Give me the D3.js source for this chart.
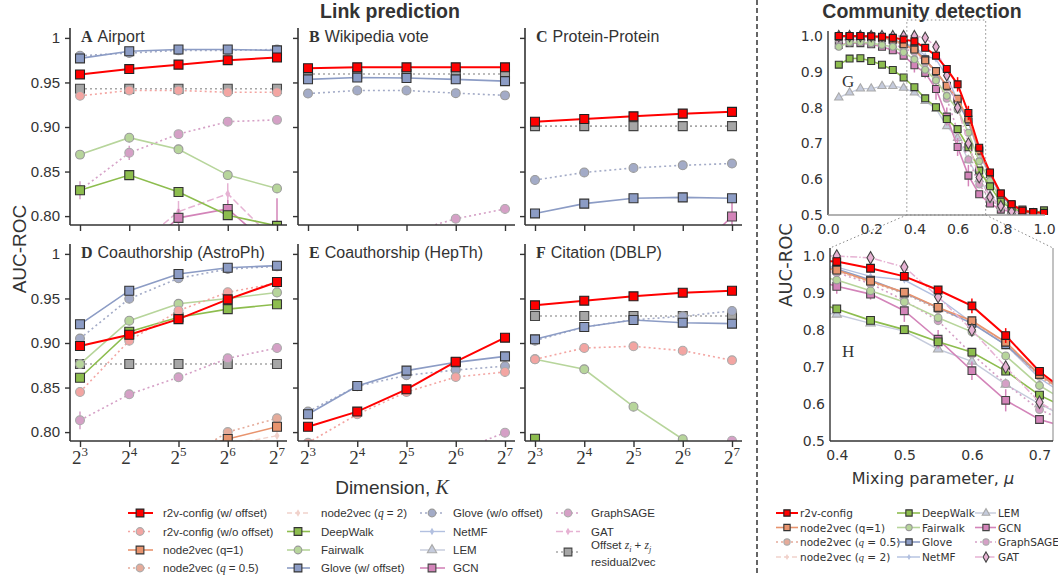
<!DOCTYPE html>
<html><head><meta charset="utf-8">
<script src="https://cdn.jsdelivr.net/npm/d3@7"></script>
<style>
body{margin:0;background:#fff}
svg{display:block}
text{font-family:"Liberation Sans",Arial,sans-serif;fill:#333}
</style></head><body>
<svg width="1058" height="575"></svg>
<script>
// ---- data: link prediction (x = log2 dimension) ----
const dimExp = [3, 4, 5, 6, 7]
const yTicks = [0.80, 0.85, 0.90, 0.95, 1.0]
const yTickLabels = ['0.80', '0.85', '0.90', '0.95', '1']

const A_r2v = [0.959, 0.965, 0.970, 0.975, 0.978]
const A_r2vNo = [0.935, 0.941, 0.941, 0.939, 0.939]
const A_offset = [0.943, 0.943, 0.943, 0.943, 0.943]
const A_gloveW = [0.977, 0.985, 0.987, 0.987, 0.986]
const A_gloveNo = [0.980, 0.983, 0.986, 0.986, 0.987]
const A_graphsage = [0.829, 0.871, 0.892, 0.906, 0.908]
const A_graphsageErr = [0.01, 0.008, 0, 0, 0]
const A_fairwalk = [0.869, 0.888, 0.875, 0.846, 0.831]
const A_deepwalk = [0.829, 0.846, 0.827, 0.801, 0.789]
const A_gcn = [0.72, 0.75, 0.798, 0.808, 0.76]
const A_gcnErr = [0, 0, 0.01, 0.01, 0.06]
const A_gat = [0.73, 0.76, 0.805, 0.825, 0.77]
const A_gatErr = [0, 0, 0.012, 0.012, 0]

const B_r2v = [0.966, 0.967, 0.967, 0.967, 0.967]
const B_offset = [0.9595, 0.9595, 0.9595, 0.9595, 0.9595]
const B_gloveW = [0.9535, 0.9555, 0.955, 0.9535, 0.9515]
const B_gloveNo = [0.9375, 0.941, 0.941, 0.938, 0.9355]
const B_graphsage = [0.74, 0.76, 0.781, 0.797, 0.808]

const C_r2v = [0.906, 0.909, 0.912, 0.915, 0.917]
const C_offset = [0.901, 0.901, 0.901, 0.901, 0.901]
const C_gloveNo = [0.8405, 0.849, 0.854, 0.857, 0.859]
const C_gloveW = [0.803, 0.814, 0.820, 0.821, 0.820]
const C_gcn = [0.70, 0.72, 0.73, 0.747, 0.7995]
const C_gcnErr = [0, 0, 0, 0, 0.02]

const D_gloveW = [0.921, 0.9587, 0.9774, 0.9845, 0.9868]
const D_gloveNo = [0.905, 0.9497, 0.9726, 0.983, 0.986]
const D_r2v = [0.8966, 0.9093, 0.9268, 0.949, 0.9685]
const D_r2vNo = [0.845, 0.9026, 0.9362, 0.957, 0.967]
const D_fairwalk = [0.8764, 0.925, 0.944, 0.950, 0.9567]
const D_deepwalk = [0.861, 0.9127, 0.929, 0.938, 0.9435]
const D_offset = [0.8764, 0.8764, 0.8764, 0.8764, 0.8764]
const D_graphsage = [0.8132, 0.8424, 0.8615, 0.8828, 0.8944]
const D_graphsageErr = [0.01, 0, 0, 0, 0]
const D_n2v1 = [0.74, 0.76, 0.775, 0.7922, 0.806]
const D_n2v05 = [0.72, 0.74, 0.766, 0.800, 0.8155]
const D_n2v2 = [0.73, 0.75, 0.77, 0.785, 0.796]

const E_r2v = [0.806, 0.823, 0.848, 0.879, 0.906]
const E_gloveW = [0.820, 0.8517, 0.869, 0.8783, 0.885]
const E_gloveNo = [0.823, 0.8515, 0.8637, 0.8697, 0.874]
const E_r2vNo = [0.788, 0.820, 0.845, 0.8618, 0.8675]
const E_graphsage = [0.70, 0.72, 0.75, 0.778, 0.7993]

const F_r2v = [0.9423, 0.9475, 0.9524, 0.9565, 0.9587]
const F_offset = [0.9303, 0.9303, 0.9303, 0.9303, 0.9303]
const F_gloveW = [0.9041, 0.918, 0.9258, 0.9228, 0.9217]
const F_gloveNo = [0.9026, 0.918, 0.926, 0.930, 0.936]
const F_r2vNo = [0.8817, 0.8944, 0.8963, 0.8914, 0.8806]
const F_fairwalk = [0.8817, 0.8705, 0.8285, 0.792, 0.77]
const F_deepwalk = [0.7926, 0.76, 0.74, 0.72, 0.70]
const F_graphsage = [0.70, 0.72, 0.75, 0.77, 0.7903]

// ---- data: community detection (x = mixing parameter) ----
const mu = [0.05, 0.1, 0.15, 0.2, 0.25, 0.3, 0.35, 0.4, 0.45, 0.5, 0.55, 0.6, 0.65, 0.7, 0.75, 0.8, 0.85, 0.9, 0.95, 1.0]
const G_r2v = [1.0, 1.0, 1.0, 0.999, 0.998, 0.995, 0.99, 0.985, 0.967, 0.945, 0.908, 0.865, 0.785, 0.688, 0.619, 0.56, 0.53, 0.512, 0.508, 0.506]
const G_n2v1 = [0.998, 0.998, 0.998, 0.997, 0.995, 0.99, 0.977, 0.962, 0.932, 0.902, 0.861, 0.825, 0.767, 0.68, 0.615, 0.56, 0.53, 0.515, 0.508, 0.505]
const G_n2v05 = [0.998, 0.998, 0.997, 0.996, 0.994, 0.988, 0.975, 0.96, 0.93, 0.898, 0.856, 0.82, 0.76, 0.675, 0.61, 0.555, 0.528, 0.513, 0.507, 0.505]
const G_n2v2 = [0.997, 0.997, 0.997, 0.995, 0.993, 0.987, 0.974, 0.958, 0.93, 0.90, 0.86, 0.822, 0.763, 0.678, 0.612, 0.557, 0.528, 0.513, 0.507, 0.505]
const G_deepwalk = [0.92, 0.937, 0.938, 0.93, 0.92, 0.905, 0.884, 0.857, 0.826, 0.801, 0.768, 0.74, 0.689, 0.624, 0.58, 0.537, 0.518, 0.51, 0.505, 0.513]
const G_fairwalk = [0.97, 0.982, 0.983, 0.98, 0.975, 0.97, 0.955, 0.935, 0.906, 0.876, 0.833, 0.795, 0.73, 0.65, 0.595, 0.545, 0.52, 0.508, 0.504, 0.51]
const G_glove = [0.999, 0.999, 0.999, 0.998, 0.996, 0.99, 0.978, 0.965, 0.935, 0.90, 0.86, 0.818, 0.76, 0.68, 0.615, 0.555, 0.527, 0.512, 0.507, 0.505]
const G_netmf = [0.999, 0.999, 0.998, 0.997, 0.996, 0.99, 0.98, 0.97, 0.945, 0.935, 0.887, 0.82, 0.76, 0.67, 0.61, 0.555, 0.525, 0.512, 0.506, 0.504]
const G_lem = [0.828, 0.842, 0.853, 0.853, 0.86, 0.86, 0.855, 0.842, 0.818, 0.797, 0.748, 0.715, 0.653, 0.60, 0.555, 0.525, 0.512, 0.505, 0.502, 0.50]
const G_gcn = [0.975, 0.98, 0.98, 0.977, 0.97, 0.96, 0.945, 0.918, 0.897, 0.852, 0.775, 0.69, 0.61, 0.558, 0.532, 0.515, 0.51, 0.505, 0.503, 0.502]
const G_gcnErr = [0, 0, 0, 0, 0, 0, 0, 0.02, 0.015, 0.03, 0.025, 0.025, 0.03, 0.01, 0.01, 0.005, 0, 0, 0, 0]
const G_graphsage = [0.99, 0.99, 0.99, 0.988, 0.985, 0.978, 0.965, 0.955, 0.925, 0.88, 0.825, 0.735, 0.655, 0.585, 0.545, 0.52, 0.51, 0.505, 0.503, 0.502]
const G_gat = [1.0, 1.0, 1.0, 1.0, 1.0, 1.0, 1.0, 1.0, 0.995, 0.97, 0.89, 0.80, 0.70, 0.605, 0.55, 0.525, 0.51, 0.505, 0.502, 0.50]
const G_r2vErr = [0, 0, 0, 0, 0, 0, 0, 0, 0, 0, 0.01, 0.02, 0.02, 0.01, 0.01, 0, 0, 0, 0, 0]
const gTicks = [0.0, 0.2, 0.4, 0.6, 0.8, 1.0]
const gyTicks = [0.5, 0.6, 0.7, 0.8, 0.9, 1.0]
const hTicks = [0.4, 0.5, 0.6, 0.7]

// ---- styles ----
const styles = {
  r2v: {c: '#ff0000', m: 'square', d: null, e: '#222', w: 2},
  r2vNo: {c: '#f3a5a2', m: 'circle', d: '2,3', e: '#aaa', w: 1.6},
  n2v1: {c: '#e8946e', m: 'square', d: null, e: '#333', w: 1.6},
  n2v05: {c: '#e5ab9a', m: 'circle', d: '2,3', e: '#aaa', w: 1.6},
  n2v2: {c: '#f1d2cb', m: 'dot', d: '5,3', e: '#f1d2cb', w: 1.4},
  deepwalk: {c: '#8dbd4e', m: 'square', d: null, e: '#333', w: 1.6},
  fairwalk: {c: '#b7d59b', m: 'circle', d: null, e: '#999', w: 1.6},
  gloveW: {c: '#8c9cc5', m: 'square', d: null, e: '#333', w: 1.6},
  gloveNo: {c: '#a3abc7', m: 'circle', d: '2,3', e: '#999', w: 1.6},
  netmf: {c: '#b2c0e0', m: 'dot', d: null, e: '#b2c0e0', w: 1.4},
  lem: {c: '#c5cbdc', m: 'triangle', d: null, e: '#aaa', w: 1.4},
  gcn: {c: '#d384b9', m: 'square', d: null, e: '#444', w: 1.6},
  graphsage: {c: '#d5a0c6', m: 'circle', d: '2,3', e: '#aaa', w: 1.6},
  gat: {c: '#e6b2d3', m: 'diamond', d: '7,2,1.5,2', e: '#444', w: 1.5},
  gatL: {c: '#e6b2d3', m: 'dot', d: '7,3', e: '#e6b2d3', w: 1.5},
  offset: {c: '#a6a6a6', m: 'square', d: '2,3', e: '#444', w: 1.6}
}
const symTypes = {square: d3.symbolSquare, circle: d3.symbolCircle, triangle: d3.symbolTriangle, diamond: d3.symbolDiamond, dot: d3.symbolDiamond}
const symSizes = {square: 80, circle: 62, triangle: 50, diamond: 60, dot: 22}

const svg = d3.select('svg')

function drawMarker(sel, key, x, y, sc) {
  const st = styles[key]
  sel.append('path')
    .attr('d', d3.symbol().type(symTypes[st.m]).size(symSizes[st.m] * sc)())
    .attr('transform', `translate(${x},${y})`)
    .attr('fill', st.c)
    .attr('stroke', st.e)
    .attr('stroke-width', st.m == 'dot' ? 0 : 1.1)
}

function drawSeries(g, key, xv, vals, xs, ys, sc, err) {
  const st = styles[key]
  const line = d3.line().x(function(d, i) {return xs(xv[i])}).y(function(d) {return ys(d)})
  g.append('path').datum(vals).attr('d', line)
    .attr('fill', 'none').attr('stroke', st.c).attr('stroke-width', st.w)
    .attr('stroke-dasharray', st.d)
  if (err) {
    err.forEach(function(e, i) {
      if (e > 0) g.append('line').attr('x1', xs(xv[i])).attr('x2', xs(xv[i]))
        .attr('y1', ys(vals[i] - e)).attr('y2', ys(vals[i] + e))
        .attr('stroke', st.c).attr('stroke-width', 1.5)
    })
  }
  vals.forEach(function(v, i) {drawMarker(g, key, xs(xv[i]), ys(v), sc)})
}

function styleAxis(a, fs) {
  a.select('.domain').remove()
  a.selectAll('line').attr('stroke', '#333').attr('stroke-width', 1.4)
  a.selectAll('text').style('font-size', fs + 'px').attr('fill', '#333')
}

// ---- link prediction panels ----
const drawOrder = ['offset', 'gatL', 'graphsage', 'gcn', 'lem', 'netmf', 'n2v2', 'n2v05', 'n2v1', 'fairwalk', 'deepwalk', 'gloveNo', 'gloveW', 'r2vNo', 'r2v']
const panels = [
  {id: 'A', name: 'Airport', x0: 70, bot: 225, ylab: true, xlab: false,
   s: {r2v: A_r2v, r2vNo: A_r2vNo, offset: A_offset, gloveW: A_gloveW, gloveNo: A_gloveNo, graphsage: A_graphsage, fairwalk: A_fairwalk, deepwalk: A_deepwalk, gcn: A_gcn, gatL: A_gat},
   e: {graphsage: A_graphsageErr, gcn: A_gcnErr, gatL: A_gatErr}},
  {id: 'B', name: 'Wikipedia vote', x0: 298, bot: 225, ylab: false, xlab: false,
   s: {r2v: B_r2v, offset: B_offset, gloveW: B_gloveW, gloveNo: B_gloveNo, graphsage: B_graphsage}, e: {}},
  {id: 'C', name: 'Protein-Protein', x0: 525, bot: 225, ylab: false, xlab: false,
   s: {r2v: C_r2v, offset: C_offset, gloveW: C_gloveW, gloveNo: C_gloveNo, gcn: C_gcn}, e: {gcn: C_gcnErr}},
  {id: 'D', name: 'Coauthorship (AstroPh)', x0: 70, bot: 441, ylab: true, xlab: true,
   s: {r2v: D_r2v, r2vNo: D_r2vNo, offset: D_offset, gloveW: D_gloveW, gloveNo: D_gloveNo, graphsage: D_graphsage, fairwalk: D_fairwalk, deepwalk: D_deepwalk, n2v1: D_n2v1, n2v05: D_n2v05, n2v2: D_n2v2},
   e: {graphsage: D_graphsageErr}},
  {id: 'E', name: 'Coauthorship (HepTh)', x0: 298, bot: 441, ylab: false, xlab: true,
   s: {r2v: E_r2v, r2vNo: E_r2vNo, gloveW: E_gloveW, gloveNo: E_gloveNo, graphsage: E_graphsage}, e: {}},
  {id: 'F', name: 'Citation (DBLP)', x0: 525, bot: 441, ylab: false, xlab: true,
   s: {r2v: F_r2v, r2vNo: F_r2vNo, offset: F_offset, gloveW: F_gloveW, gloveNo: F_gloveNo, graphsage: F_graphsage, fairwalk: F_fairwalk, deepwalk: F_deepwalk}, e: {}}
]

const defs = svg.append('defs')
panels.forEach(function(p) {
  const xs = d3.scaleLinear().domain([3, 7]).range([p.x0 + 10, p.x0 + 207])
  const ys = d3.scaleLinear().domain([0.79, 1.01]).range([p.bot, p.bot - 196])
  defs.append('clipPath').attr('id', 'clip' + p.id).append('rect')
    .attr('x', p.x0).attr('y', p.bot - 200).attr('width', 220).attr('height', 200)
  const g = svg.append('g').attr('clip-path', 'url(#clip' + p.id + ')')
  drawOrder.forEach(function(k) {if (p.s[k]) drawSeries(g, k, dimExp, p.s[k], xs, ys, 1, p.e[k])})

  const ya = svg.append('g').attr('transform', `translate(${p.x0},0)`)
    .call(d3.axisLeft(ys).tickValues(yTicks).tickSize(5).tickPadding(5)
      .tickFormat(function(d, i) {return p.ylab ? yTickLabels[i] : ''}))
  styleAxis(ya, 15)
  const xa = svg.append('g').attr('transform', `translate(0,${p.bot})`)
    .call(d3.axisBottom(xs).tickValues(dimExp).tickSize(6).tickFormat(''))
  styleAxis(xa, 15)
  if (p.xlab) {
    dimExp.forEach(function(e) {
      const t = svg.append('text').attr('x', xs(e)).attr('y', p.bot + 23).attr('text-anchor', 'middle')
        .style('font-family', '"Liberation Serif",serif').style('font-size', '19px')
      t.append('tspan').text('2')
      t.append('tspan').attr('dy', -8).style('font-size', '13px').text(e)
    })
  }
  svg.append('line').attr('x1', p.x0).attr('x2', p.x0).attr('y1', p.bot).attr('y2', p.bot - 197)
    .attr('stroke', '#333').attr('stroke-width', 1.6)
  svg.append('line').attr('x1', p.x0).attr('x2', p.x0 + 217).attr('y1', p.bot).attr('y2', p.bot)
    .attr('stroke', '#333').attr('stroke-width', 1.6)
  const tt = svg.append('text').attr('x', p.x0 + 11).attr('y', p.bot - 183).style('font-size', '16px')
  tt.append('tspan').text(p.id).style('font-family', '"Liberation Serif",serif').style('font-weight', 'bold')
  tt.append('tspan').attr('dx', 5).text(p.name)
})

svg.append('text').attr('transform', 'translate(26,249) rotate(-90)').attr('text-anchor', 'middle')
  .style('font-size', '19px').text('AUC-ROC')
const xl = svg.append('text').attr('x', 392).attr('y', 494).attr('text-anchor', 'middle').style('font-size', '19px')
xl.append('tspan').text('Dimension, ')
xl.append('tspan').text('K').style('font-family', '"Liberation Serif",serif').style('font-style', 'italic').style('font-size', '20px')
svg.append('text').attr('x', 390).attr('y', 18).attr('text-anchor', 'middle')
  .style('font-size', '19.5px').style('font-weight', 'bold').attr('fill', '#000').text('Link prediction')
svg.append('text').attr('x', 922).attr('y', 18).attr('text-anchor', 'middle')
  .style('font-size', '19.5px').style('font-weight', 'bold').attr('fill', '#000').text('Community detection')

svg.append('line').attr('x1', 757).attr('x2', 757).attr('y1', 0).attr('y2', 575)
  .attr('stroke', '#000').attr('stroke-width', 1.2).attr('stroke-dasharray', '5,3')

// ---- community detection ----
const cdOrder = ['lem', 'gcn', 'graphsage', 'netmf', 'n2v2', 'n2v05', 'gloveW', 'n2v1', 'fairwalk', 'deepwalk', 'gat', 'r2v']
const cdSeries = {r2v: G_r2v, n2v1: G_n2v1, n2v05: G_n2v05, n2v2: G_n2v2, deepwalk: G_deepwalk, fairwalk: G_fairwalk,
  gloveW: G_glove, netmf: G_netmf, lem: G_lem, gcn: G_gcn, graphsage: G_graphsage, gat: G_gat}
const cdErr = {gcn: G_gcnErr, r2v: G_r2vErr}

function cdPanel(id, xs, ys, clip, xt, sc) {
  defs.append('clipPath').attr('id', 'clip' + id).append('rect')
    .attr('x', clip[0]).attr('y', clip[1]).attr('width', clip[2]).attr('height', clip[3])
  const g = svg.append('g').attr('clip-path', 'url(#clip' + id + ')')
  cdOrder.forEach(function(k) {drawSeries(g, k, mu, cdSeries[k], xs, ys, sc, cdErr[k])})
  const ya = svg.append('g').attr('transform', `translate(${xs.range()[0]},0)`)
    .call(d3.axisLeft(ys).tickValues(gyTicks).tickSize(0).tickPadding(5).tickFormat(d3.format('.1f')))
  styleAxis(ya, 14)
  ya.selectAll('text').style('font-family', '"DejaVu Sans",sans-serif')
  const xa = svg.append('g').attr('transform', `translate(0,${ys.range()[0]})`)
    .call(d3.axisBottom(xs).tickValues(xt).tickSize(0).tickPadding(9).tickFormat(d3.format('.1f')))
  styleAxis(xa, 14)
  xa.selectAll('text').style('font-family', '"DejaVu Sans",sans-serif')
}

const gx = d3.scaleLinear().domain([0, 1]).range([828, 1044])
const gy = d3.scaleLinear().domain([0.5, 1.0]).range([215, 36])
cdPanel('G', gx, gy, [828, 20, 230, 195], gTicks, 0.6)
svg.append('line').attr('x1', 828).attr('x2', 828).attr('y1', 215).attr('y2', 31).attr('stroke', '#333').attr('stroke-width', 1.4)
svg.append('line').attr('x1', 828).attr('x2', 1045).attr('y1', 215).attr('y2', 215).attr('stroke', '#999').attr('stroke-width', 1.4)
svg.append('text').attr('x', 842).attr('y', 87).style('font-family', '"Liberation Serif",serif').style('font-size', '17px').text('G')

const hx = d3.scaleLinear().domain([0.39, 0.72]).range([830, 1053])
const hy = d3.scaleLinear().domain([0.5, 1.0]).range([441, 256])
cdPanel('H', hx, hy, [830, 246, 223, 196], hTicks, 0.75)
svg.append('line').attr('x1', 830).attr('x2', 830).attr('y1', 441).attr('y2', 248).attr('stroke', '#333').attr('stroke-width', 1.4)
svg.append('line').attr('x1', 1053).attr('x2', 1053).attr('y1', 441).attr('y2', 248).attr('stroke', '#999').attr('stroke-width', 1.2)
svg.append('line').attr('x1', 830).attr('x2', 1053).attr('y1', 441).attr('y2', 441).attr('stroke', '#333').attr('stroke-width', 1.4)
svg.append('text').attr('x', 842).attr('y', 357).style('font-family', '"Liberation Serif",serif').style('font-size', '17px').text('H')

// zoom box and connectors
const zb = svg.append('g').attr('stroke', '#888').attr('stroke-width', 1).attr('stroke-dasharray', '1.5,2.5').attr('fill', 'none')
zb.append('rect').attr('x', gx(0.365)).attr('y', 20).attr('width', gx(0.73) - gx(0.365)).attr('height', 195)
zb.append('line').attr('x1', gx(0.365)).attr('y1', 215).attr('x2', 830).attr('y2', 248)
zb.append('line').attr('x1', gx(0.73)).attr('y1', 215).attr('x2', 1053).attr('y2', 248)

svg.append('text').attr('transform', 'translate(792,265) rotate(-90)').attr('text-anchor', 'middle')
  .style('font-family', '"DejaVu Sans",sans-serif').style('font-size', '18px').text('AUC-ROC')
const ml = svg.append('text').attr('x', 933).attr('y', 484).attr('text-anchor', 'middle')
  .style('font-family', '"DejaVu Sans",sans-serif').style('font-size', '16px')
ml.append('tspan').text('Mixing parameter, ')
ml.append('tspan').text('μ').style('font-style', 'italic')

// ---- legends ----
function label(t, parts, serifFam) {
  parts.forEach(function(p) {
    const s = t.append('tspan').text(p[0])
    if (p[1] == 'i') s.style('font-family', serifFam).style('font-style', 'italic')
    if (p[1] == 'sub') s.attr('dy', 3).style('font-size', '8px').style('font-family', serifFam).style('font-style', 'italic')
    if (p[1] == 'up') s.attr('dy', -3)
  })
}
function legendItem(key, cx, cy, parts, fs, fam, sc) {
  const st = styles[key]
  svg.append('line').attr('x1', cx[0]).attr('x2', cx[1]).attr('y1', cy).attr('y2', cy)
    .attr('stroke', st.c).attr('stroke-width', st.w).attr('stroke-dasharray', st.d)
  drawMarker(svg, key, cx[2], cy, sc)
  const t = svg.append('text').attr('x', cx[3]).attr('y', cy + 4).style('font-size', fs + 'px').style('font-family', fam)
  label(t, parts, '"Liberation Serif",serif')
}

const legCols = [[128, 153, 140, 163], [287, 310, 298, 321], [420, 445, 432, 453], [556, 580, 568, 591]]
const legRows = [513, 531.5, 550, 568]
const leftLegend = [
  ['r2v', [['r2v-config (w/ offset)']]], ['r2vNo', [['r2v-config (w/o offset)']]],
  ['n2v1', [['node2vec (q=1)']]], ['n2v05', [['node2vec ('], ['q', 'i'], [' = 0.5)']]],
  ['n2v2', [['node2vec ('], ['q', 'i'], [' = 2)']]], ['deepwalk', [['DeepWalk']]],
  ['fairwalk', [['Fairwalk']]], ['gloveW', [['Glove (w/ offset)']]],
  ['gloveNo', [['Glove (w/o offset)']]], ['netmf', [['NetMF']]],
  ['lem', [['LEM']]], ['gcn', [['GCN']]],
  ['graphsage', [['GraphSAGE']]], ['gatL', [['GAT']]]
]
leftLegend.forEach(function(d, i) {
  legendItem(d[0], legCols[Math.floor(i / 4)], legRows[i % 4], d[1], 11.5, '"Liberation Sans",sans-serif', 0.75)
})
legendItem('offset', legCols[3], 552, [], 11.5, '"Liberation Sans",sans-serif', 0.75)
const ot = svg.append('text').attr('x', 591).attr('y', 549).style('font-size', '11.5px')
label(ot, [['Offset '], ['z', 'i'], ['i', 'sub'], [' + ', 'up'], ['z', 'i'], ['j', 'sub']], '"Liberation Serif",serif')
svg.append('text').attr('x', 591).attr('y', 566).style('font-size', '11.5px').text('residual2vec')

const rCols = [[776, 798, 787, 800], [897, 920, 909, 922], [975, 996, 986, 998]]
const rRows = [513, 527.5, 542, 557]
const rightLegend = [
  ['r2v', [['r2v-config']]], ['n2v1', [['node2vec (q=1)']]],
  ['n2v05', [['node2vec ('], ['q', 'i'], [' = 0.5)']]], ['n2v2', [['node2vec ('], ['q', 'i'], [' = 2)']]],
  ['deepwalk', [['DeepWalk']]], ['fairwalk', [['Fairwalk']]], ['gloveW', [['Glove']]], ['netmf', [['NetMF']]],
  ['lem', [['LEM']]], ['gcn', [['GCN']]], ['graphsage', [['GraphSAGE']]], ['gat', [['GAT']]]
]
rightLegend.forEach(function(d, i) {
  legendItem(d[0], rCols[Math.floor(i / 4)], rRows[i % 4], d[1], 10.5, '"DejaVu Sans",sans-serif', 0.5)
})
</script>
</body></html>
